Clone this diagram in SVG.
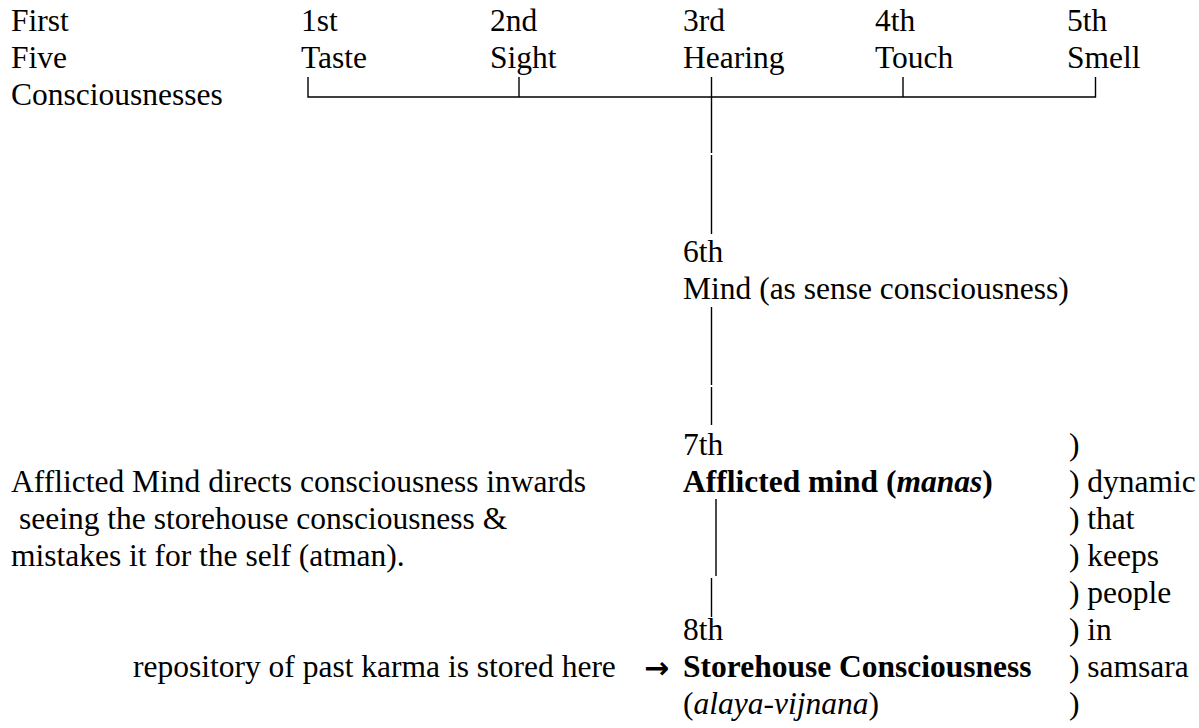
<svg xmlns="http://www.w3.org/2000/svg" width="1199" height="728" viewBox="0 0 1199 728">
<style>
text{font-family:"Liberation Serif","Times New Roman",serif;font-size:31.5px;fill:#000}
.b{font-weight:bold}
.i{font-style:italic}
.arr{font-family:"DejaVu Sans",sans-serif;font-size:30px;font-weight:bold}
.ln{stroke:#000;stroke-width:1.4;fill:none}
</style>
<rect width="1199" height="728" fill="#fff"/>
<g id="title">
<text x="11" y="31">First</text>
<text x="11" y="68">Five</text>
<text x="11" y="105">Consciousnesses</text>
</g>
<g id="c1"><text x="301" y="31">1st</text><text x="301" y="68">Taste</text></g>
<g id="c2"><text x="490" y="31">2nd</text><text x="490" y="68">Sight</text></g>
<g id="c3"><text x="683" y="31">3rd</text><text x="683" y="68">Hearing</text></g>
<g id="c4"><text x="875" y="31">4th</text><text x="875" y="68">Touch</text></g>
<g id="c5"><text x="1067" y="31">5th</text><text x="1067" y="68">Smell</text></g>
<g id="c6"><text x="683" y="262">6th</text><text x="683" y="299">Mind (as sense consciousness)</text></g>
<g id="c7"><text x="683" y="455">7th</text><text x="683" y="492" class="b">Afflicted mind (<tspan class="i">manas</tspan>)</text></g>
<g id="c8"><text x="683" y="640">8th</text><text x="683" y="677" class="b">Storehouse Consciousness</text><text x="683" y="714">(<tspan class="i">alaya-vijnana</tspan>)</text></g>
<g id="note-afflicted">
<text x="11" y="492">Afflicted Mind directs consciousness inwards</text>
<text x="19" y="529">seeing the storehouse consciousness &amp;</text>
<text x="11" y="566">mistakes it for the self (atman).</text>
</g>
<g id="note-repository">
<text x="133" y="677">repository of past karma is stored here</text>
<text x="644" y="678" class="arr">→</text>
</g>
<g id="note-dynamic">
<text x="1069" y="455">)</text>
<text x="1069" y="492">) dynamic</text>
<text x="1069" y="529">) that</text>
<text x="1069" y="566">) keeps</text>
<text x="1069" y="603">) people</text>
<text x="1069" y="640">) in</text>
<text x="1069" y="677">) samsara</text>
<text x="1069" y="714">)</text>
</g>
<g id="connectors">
<path class="ln" d="M308 77V97H1095.5V77"/>
<path class="ln" d="M519 77V97"/>
<path class="ln" d="M903 77V97"/>
<path class="ln" d="M711.5 77V153M711.5 155V234"/>
<path class="ln" d="M711.5 307V385M711.5 387V425"/>
<path class="ln" d="M716 499V576M711.5 578V617"/>
</g>
</svg>
